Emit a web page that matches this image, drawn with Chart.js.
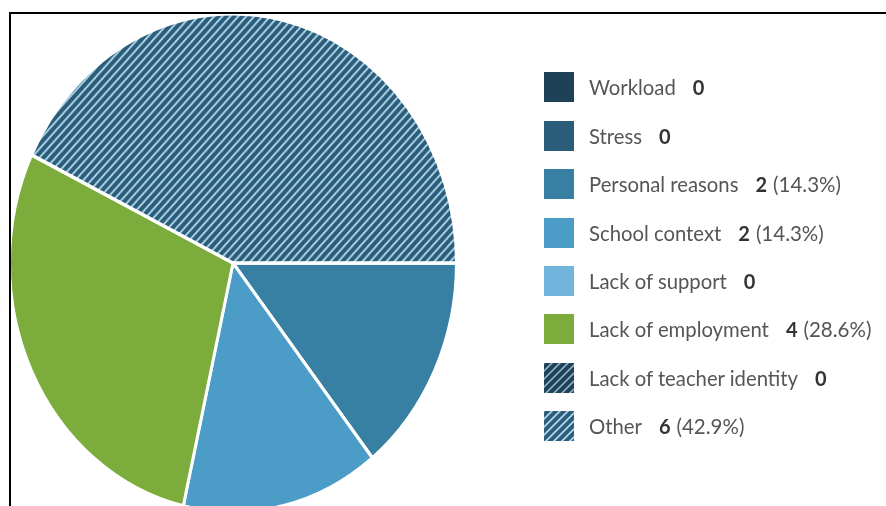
<!DOCTYPE html>
<html>
<head>
<meta charset="utf-8">
<script src="https://cdn.jsdelivr.net/npm/chart.js@4.4.1/dist/chart.umd.min.js"></script>
<style>
  html, body { margin: 0; padding: 0; background: #fff; }
  #wrap { position: relative; width: 886px; height: 506px; overflow: hidden; }
  #pie { position: absolute; left: 0; top: 0; }
  #frame { position: absolute; left: 9px; top: 12px; width: 900px; height: 520px;
           border-top: 2px solid #000; border-left: 2px solid #000; }
  #legend { position: absolute; left: 544px; top: 63.3px; font-family: Lato, sans-serif; font-size: 20.3px; color: #555; }
  .row { height: 48.4px; display: flex; align-items: center; white-space: nowrap; }
  .row canvas { width: 30px; height: 30px; margin-right: 15px; }
  .row b { color: #333; font-weight: 700; font-size: 20px; margin-left: 17px; }
  .row .pct { margin-left: 6px; font-size: 20.5px; }
</style>
</head>
<body>
<div id="wrap">
  <canvas id="pie" width="886" height="506"></canvas>
  <div id="legend"></div>
  <div id="frame"></div>
</div>
<script>
const categories = ['Workload', 'Stress', 'Personal reasons', 'School context', 'Lack of support',
                    'Lack of employment', 'Lack of teacher identity', 'Other'];
const counts = [0, 0, 2, 2, 0, 4, 0, 6];
const baseColors = ['#1e4158', '#2a5d7a', '#3780a3', '#4b9dc7', '#71b4dc', '#7cad3c', '#1e4158', '#2c5e7b'];
const hatched = [false, false, false, false, false, false, true, true];
const stripeColors = ['', '', '', '', '', '', '#8fb0c4', '#b5dbef'];

// small tile with "/" stripes
function hatchTile(bg, stripe) {
  const c = document.createElement('canvas');
  c.width = 8; c.height = 8;
  const g = c.getContext('2d');
  g.fillStyle = bg;
  g.fillRect(0, 0, 8, 8);
  g.strokeStyle = stripe;
  g.lineWidth = 1.6;
  g.beginPath();
  g.moveTo(-1, 9); g.lineTo(9, -1);
  g.moveTo(-1, 1); g.lineTo(1, -1);
  g.moveTo(7, 9); g.lineTo(9, 7);
  g.stroke();
  return c;
}

const scratch = document.createElement('canvas').getContext('2d');
const fills = baseColors.map((col, i) =>
  hatched[i] ? scratch.createPattern(hatchTile(col, stripeColors[i]), 'repeat') : col);

const total = counts.reduce((a, b) => a + b, 0);

// the pie in the reference is slightly taller than wide
const stretchY = {
  id: 'stretchY',
  beforeDatasetsDraw(chart) {
    const arc = chart.getDatasetMeta(0).data[0];
    const ctx = chart.ctx;
    ctx.save();
    ctx.translate(arc.x, arc.y);
    ctx.scale(1, 1.115);
    ctx.translate(-arc.x, -arc.y);
  },
  afterDatasetsDraw(chart) {
    chart.ctx.restore();
  }
};

const chart = new Chart(document.getElementById('pie'), {
  type: 'pie',
  data: {
    labels: categories,
    datasets: [{
      data: counts,
      backgroundColor: fills,
      borderColor: '#ffffff',
      borderWidth: 3
    }]
  },
  options: {
    responsive: false,
    animation: false,
    devicePixelRatio: 1,
    rotation: 90,
    layout: { padding: { left: 8, right: 428, top: 38, bottom: 18 } },
    plugins: {
      legend: { display: false },
      tooltip: { enabled: false }
    }
  },
  plugins: [stretchY]
});

// legend built from the same arrays
const legend = document.getElementById('legend');
categories.forEach((name, i) => {
  const row = document.createElement('div');
  row.className = 'row';
  const box = document.createElement('canvas');
  box.width = 30; box.height = 30;
  const g = box.getContext('2d');
  g.fillStyle = hatched[i] ? g.createPattern(hatchTile(baseColors[i], stripeColors[i]), 'repeat') : baseColors[i];
  g.fillRect(0, 0, 30, 30);
  row.appendChild(box);
  const label = document.createElement('span');
  label.textContent = name;
  row.appendChild(label);
  const val = document.createElement('b');
  val.textContent = counts[i];
  row.appendChild(val);
  if (counts[i] > 0) {
    const pct = document.createElement('span');
    pct.className = 'pct';
    pct.textContent = '(' + (counts[i] / total * 100).toFixed(1) + '%)';
    row.appendChild(pct);
  }
  legend.appendChild(row);
});
</script>
</body>
</html>
